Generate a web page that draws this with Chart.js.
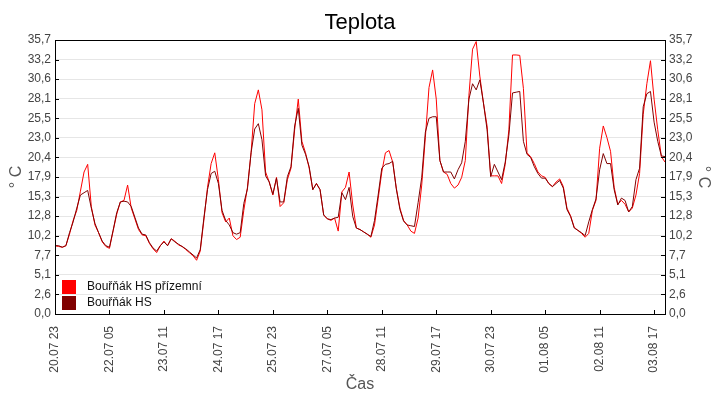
<!DOCTYPE html>
<html lang="cs">
<head>
<meta charset="UTF-8">
<title>Teplota</title>
<script src="https://cdn.jsdelivr.net/npm/chart.js"></script>
<style>
  html, body { margin: 0; padding: 0; background: #fff; }
  #wrap { width: 720px; height: 400px; }
</style>
</head>
<body>
<div id="wrap"><canvas id="teplotaChart" width="720" height="400"></canvas></div>
<script>
// hodnoty po 2 hodinách od 20.07 23:00
const stepHours = 2;
const tickEveryHours = 30;

const xTickLabels = ['20.07 23', '22.07 05', '23.07 11', '24.07 17', '25.07 23', '27.07 05',
                     '28.07 11', '29.07 17', '30.07 23', '01.08 05', '02.08 11', '03.08 17'];
const yTickLabels = ['0,0', '2,6', '5,1', '7,7', '10,2', '12,8', '15,3', '17,9',
                     '20,4', '23,0', '25,5', '28,1', '30,6', '33,2', '35,7'];
const yMax = 35.7;

const seriesNames = ['Bouřňák HS přízemní', 'Bouřňák HS'];

const prizemni = [
  8.9, 8.8, 8.7, 8.9, 10.4, 12.2, 13.5, 16.0, 18.5, 19.5, 14.0, 11.6,
  10.6, 9.4, 8.8, 8.55, 10.8, 13.0, 14.6, 14.8, 16.8, 13.8, 12.4, 11.0,
  10.3, 10.2, 9.2, 8.5, 8.0, 8.9, 9.5, 8.9, 9.8, 9.5, 9.0, 8.8,
  8.4, 8.0, 7.6, 7.0, 8.2, 12.2, 16.5, 19.6, 21.0, 17.5, 13.2, 12.0,
  12.5, 10.2, 9.7, 10.0, 13.5, 16.5, 21.0, 27.4, 29.2, 26.6, 18.5, 17.2,
  15.5, 17.8, 14.0, 14.5, 17.5, 19.0, 24.0, 28.0, 22.5, 21.0, 19.0, 16.2,
  17.0, 16.2, 12.9, 12.4, 12.2, 12.5, 10.8, 15.9, 16.5, 18.5, 14.2, 11.2,
  11.0, 10.7, 10.4, 10.0, 11.6, 15.0, 18.5, 21.0, 21.3, 19.8, 16.4, 13.8,
  12.2, 11.6, 10.8, 10.5, 12.5, 16.8, 23.0, 29.5, 31.8, 28.0, 20.0, 18.5,
  18.2, 17.0, 16.4, 16.8, 17.8, 20.0, 28.5, 34.5, 35.5, 31.0, 27.5, 24.5,
  18.0, 18.0, 18.0, 17.0, 19.5, 24.0, 33.75, 33.75, 33.7, 29.4, 21.0, 20.5,
  19.6, 18.5, 18.0, 17.8, 17.0, 16.6, 17.2, 17.6, 16.6, 13.8, 12.8, 11.3,
  10.9, 10.5, 10.0, 10.5, 13.5, 14.8, 21.6, 24.5, 23.0, 21.2, 16.5, 14.3,
  14.8, 14.3, 13.3, 13.8, 15.5, 18.3, 26.0, 30.0, 33.0, 28.0, 24.0, 20.5,
  19.8
];

const hs = [
  8.9, 8.9, 8.7, 8.9, 10.6, 12.0, 13.8, 15.5, 15.8, 16.1, 13.8, 11.8,
  10.6, 9.5, 8.9, 8.7, 10.9, 13.2, 14.6, 14.7, 14.6, 14.0, 12.6, 11.2,
  10.4, 10.3, 9.3, 8.6, 8.2, 8.9, 9.4, 8.9, 9.8, 9.4, 9.1, 8.8,
  8.5, 8.1, 7.7, 7.3, 8.4, 12.5, 16.2, 18.3, 18.6, 17.0, 13.5, 12.2,
  11.6, 10.6, 10.4, 10.6, 14.4, 16.3, 21.0, 24.1, 24.8, 22.7, 18.0, 17.2,
  15.6, 17.7, 14.6, 14.6, 17.9, 19.2, 24.5, 26.8, 22.0, 20.8, 19.2, 16.2,
  17.0, 16.2, 12.9, 12.4, 12.3, 12.5, 12.6, 15.8, 14.9, 16.5, 12.7, 11.2,
  11.0, 10.7, 10.4, 10.1, 12.2, 15.5, 19.0, 19.5, 19.6, 19.9, 16.3, 13.6,
  12.1, 11.6, 11.5, 11.4, 14.5, 17.8, 23.7, 25.5, 25.7, 25.7, 20.0, 18.5,
  18.5, 18.5, 17.6, 18.8, 19.7, 22.5, 28.0, 30.0, 29.2, 30.5, 27.5, 24.0,
  17.9, 19.5, 18.5, 17.5, 19.8, 23.3, 28.8, 28.9, 29.0, 22.5, 20.8, 20.4,
  19.2, 18.3, 17.7, 17.7, 17.0, 16.6, 17.0, 17.4, 16.4, 13.6, 12.7, 11.2,
  10.9, 10.6, 10.2, 12.0, 13.6, 15.0, 18.8, 20.9, 19.6, 19.6, 16.2, 14.2,
  15.1, 14.8, 13.3, 14.0, 17.5, 19.0, 27.0, 28.7, 29.0, 25.0, 22.5, 20.6,
  20.5
];

const colors = ['#ff0000', '#800000'];

function toPoints(values) {
  return values.map((v, i) => ({ x: i * stepHours, y: v }));
}

// ramecek, vnitrni carky a legenda v plose grafu
const framePlugin = {
  id: 'framePlugin',
  afterDraw(chart) {
    const ctx = chart.ctx;
    const a = chart.chartArea;
    ctx.save();
    ctx.strokeStyle = '#000';
    ctx.lineWidth = 1;
    ctx.strokeRect(Math.round(a.left) + 0.5, Math.round(a.top) + 0.5,
                   Math.round(a.right - a.left), Math.round(a.bottom - a.top));

    ctx.beginPath();
    const xs = chart.scales.x;
    xs.ticks.forEach(t => {
      const px = Math.round(xs.getPixelForValue(t.value)) + 0.5;
      ctx.moveTo(px, a.bottom);
      ctx.lineTo(px, a.bottom - 4);
    });
    const ys = chart.scales.y;
    ys.ticks.forEach(t => {
      const py = Math.round(ys.getPixelForValue(t.value)) + 0.5;
      ctx.moveTo(a.left, py);
      ctx.lineTo(a.left + 4, py);
      ctx.moveTo(a.right, py);
      ctx.lineTo(a.right - 4, py);
    });
    ctx.stroke();

    ctx.font = '12px "Liberation Sans", Arial, sans-serif';
    ctx.textBaseline = 'middle';
    chart.data.datasets.forEach((ds, i) => {
      const y = a.bottom - 34 + i * 16;
      ctx.fillStyle = ds.borderColor;
      ctx.fillRect(a.left + 7, y, 14, 14);
      ctx.fillStyle = '#111';
      ctx.fillText(ds.label, a.left + 32, y + 7);
    });
    ctx.restore();
  }
};

const yScaleBase = {
  type: 'linear',
  min: 0,
  max: yMax,
  afterBuildTicks: scale => {
    scale.ticks = yTickLabels.map((l, i) => ({ value: i * yMax / (yTickLabels.length - 1) }));
  },
  afterFit: scale => { scale.width = 55; },
  border: { display: false },
  ticks: {
    color: '#444',
    font: { family: '"Liberation Sans", Arial, sans-serif', size: 12 },
    padding: 4,
    callback: (value, index) => yTickLabels[index]
  },
  title: {
    display: true,
    text: '° C',
    color: '#555',
    font: { family: '"Liberation Sans", Arial, sans-serif', size: 16 },
    padding: { top: 7, bottom: 0 }
  }
};

const ctx = document.getElementById('teplotaChart').getContext('2d');
const chart = new Chart(ctx, {
  type: 'line',
  data: {
    datasets: [
      {
        label: seriesNames[0],
        data: toPoints(prizemni),
        borderColor: colors[0],
        backgroundColor: colors[0],
        borderWidth: 1,
        pointRadius: 0,
        tension: 0,
        order: 1
      },
      {
        label: seriesNames[1],
        data: toPoints(hs),
        borderColor: colors[1],
        backgroundColor: colors[1],
        borderWidth: 1,
        pointRadius: 0,
        tension: 0,
        order: 0
      }
    ]
  },
  options: {
    responsive: false,
    animation: false,
    layout: { padding: 0 },
    plugins: {
      legend: { display: false },
      tooltip: { enabled: false },
      title: {
        display: true,
        text: 'Teplota',
        color: '#000',
        font: { family: '"Liberation Sans", Arial, sans-serif', size: 22, weight: 'normal' },
        padding: { top: 10, bottom: 3.6 }
      }
    },
    scales: {
      x: {
        type: 'linear',
        min: 0,
        max: (prizemni.length - 1) * stepHours,
        afterBuildTicks: scale => {
          scale.ticks = xTickLabels.map((l, i) => ({ value: i * tickEveryHours }));
        },
        afterFit: scale => { scale.height = 86; },
        grid: { display: false },
        border: { display: false },
        ticks: {
          autoSkip: false,
          maxRotation: 90,
          minRotation: 90,
          color: '#444',
          font: { family: '"Liberation Sans", Arial, sans-serif', size: 12 },
          padding: 4,
          callback: (value, index) => xTickLabels[index]
        },
        title: {
          display: true,
          text: 'Čas',
          color: '#555',
          font: { family: '"Liberation Sans", Arial, sans-serif', size: 16 },
          padding: { top: 0, bottom: 6 }
        }
      },
      y: Object.assign({}, yScaleBase, {
        position: 'left',
        grid: { color: '#e6e6e6', drawTicks: false }
      }),
      y2: Object.assign({}, yScaleBase, {
        position: 'right',
        grid: { display: false, drawTicks: false }
      })
    }
  },
  plugins: [framePlugin]
});
</script>
</body>
</html>
